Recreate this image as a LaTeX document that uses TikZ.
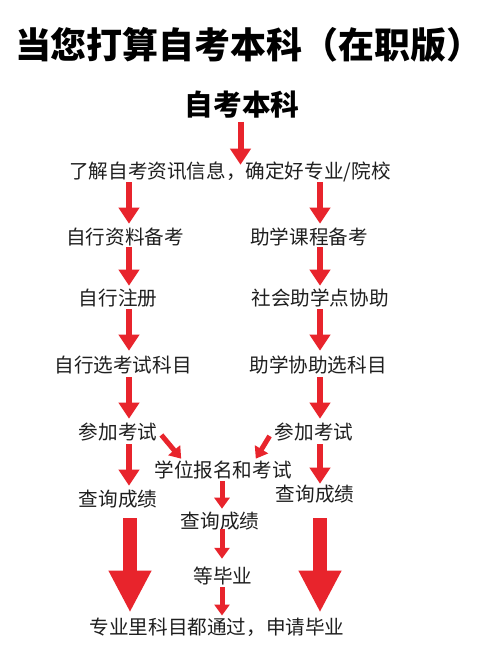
\documentclass[tikz,border=0pt]{standalone}
\usepackage{fontspec}
\setmainfont{Noto Sans CJK SC}
\usetikzlibrary{arrows.meta,calc}
\definecolor{arrred}{RGB}{232,36,44}
\tikzset{
  txt/.style={inner sep=0pt, font=\fontsize{19.6}{20}\selectfont, text=black!88},
  arr/.style={draw=arrred, line width=6pt, -{Triangle[length=16pt,width=20pt]}},
  arrs/.style={draw=arrred, line width=5pt, -{Triangle[length=11pt,width=15pt]}},
  arrbig/.style={draw=arrred, line width=14pt, -{Triangle[length=42pt,width=40pt]}}
}
\begin{document}
\begin{tikzpicture}[x=1pt,y=-1pt]
\useasboundingbox[fill=white] (0,0) rectangle (500,656);
\coordinate (L) at (129,0);
\coordinate (R) at (320,0);
\coordinate (M) at (222,0);
\node[inner sep=0pt, font=\fontsize{36}{38}\selectfont\bfseries] (t0) at (249,45) {当您打算自考本科（在职版）};
\node[inner sep=0pt, font=\fontsize{28.7}{30}\selectfont\bfseries] (n0) at (242,105) {自考本科};
\node[txt] (n1) at (230,172) {了解自考资讯信息，确定好专业/院校};
\node[txt] (l1) at (125,237) {自行资料备考};
\node[txt] (r1) at (309,237) {助学课程备考};
\node[txt] (l2) at (118,298) {自行注册};
\node[txt] (r2) at (320,298) {社会助学点协助};
\node[txt] (l3) at (123,365) {自行选考试科目};
\node[txt] (r3) at (318,365) {助学协助选科目};
\node[txt] (l4) at (118,432) {参加考试};
\node[txt] (r4) at (314,432) {参加考试};
\node[txt] (m1) at (223,470) {学位报名和考试};
\node[txt] (l5) at (118,499) {查询成绩};
\node[txt] (r5) at (315,494) {查询成绩};
\node[txt] (m2) at (220,521) {查询成绩};
\node[txt] (m3) at (223,576) {等毕业};
\node[txt] (b) at (217,627) {专业里科目都通过，申请毕业};
% top arrow
\draw[arr, shorten <=3pt, shorten >=-3pt] ($(n0.south)+(-1.5,0)$) -- ($(n1.north)+(10.5,0)$);
% left column
\draw[arr, shorten >=4pt] (n1.south -| L) -- (l1.north -| L);
\draw[arr, shorten <=1pt, shorten >=3pt] (l1.south -| L) -- (l2.north -| L);
\draw[arr, shorten <=2pt, shorten >=5pt] (l2.south -| L) -- (l3.north -| L);
\draw[arr, shorten <=3pt, shorten >=4pt] (l3.south -| L) -- (l4.north -| L);
\draw[arr, shorten <=3pt, shorten >=4pt] (l4.south -| L) -- (l5.north -| L);
% right column
\draw[arr, shorten >=4pt] (n1.south -| R) -- (r1.north -| R);
\draw[arr, shorten <=1pt, shorten >=3pt] (r1.south -| R) -- (r2.north -| R);
\draw[arr, shorten <=2pt, shorten >=5pt] (r2.south -| R) -- (r3.north -| R);
\draw[arr, shorten <=3pt, shorten >=4pt] (r3.south -| R) -- (r4.north -| R);
\draw[arr, shorten <=3pt, shorten >=1pt] (r4.south -| R) -- (r5.north -| R);
% diagonals into the middle
\draw[arrs] ($(l4.east)+(4,3)$) -- ($(m1.north west)+(27,-2)$);
\draw[arrs] ($(r4.west)+(-5,4)$) -- ($(m1.north east)+(-36,-2)$);
% middle column
\draw[arrs, shorten <=2pt, shorten >=3pt] (m1.south -| M) -- (m2.north -| M);
\draw[arrs, shorten <=-1pt, shorten >=8pt] (m2.south -| M) -- (m3.north -| M);
\draw[arrs, shorten <=2pt, shorten >=2pt] (m3.south -| M) -- (b.north -| M);
% big arrows
\draw[arrbig, shorten <=10pt, shorten >=5pt] (l5.south -| 130,0) -- (b.north -| 130,0);
\draw[arrbig, shorten <=15pt, shorten >=5pt] (r5.south -| R) -- (b.north -| R);
\end{tikzpicture}
\end{document}
